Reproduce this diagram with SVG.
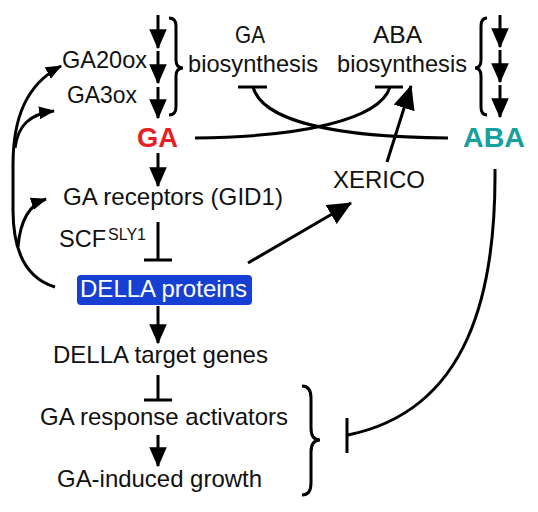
<svg xmlns="http://www.w3.org/2000/svg" width="538" height="512" viewBox="0 0 538 512">
<style>
text{font-family:"Liberation Sans",Arial,sans-serif;font-size:24px;fill:#111}
.ln{fill:none;stroke:#000;stroke-width:3}
.b{font-weight:bold;font-size:28px}
</style>
<defs>
<marker id="ah" markerUnits="userSpaceOnUse" markerWidth="20" markerHeight="20" viewBox="0 0 16 14" refX="15" refY="7" orient="auto"><path d="M0,0 L16,7 L0,14 Z" fill="#000"/></marker>
<marker id="ahs" markerUnits="userSpaceOnUse" markerWidth="16" markerHeight="14" viewBox="0 0 15 12" refX="14" refY="6" orient="auto"><path d="M0,0 L15,6 L0,12 Z" fill="#000"/></marker>
<marker id="ahb" markerUnits="userSpaceOnUse" markerWidth="24" markerHeight="22" viewBox="0 0 23 21" refX="22" refY="10.5" orient="auto"><path d="M0,0 L23,10.5 L0,21 Z" fill="#000"/></marker>
</defs>
<rect width="538" height="512" fill="#fff"/>
<g id="connectors">
<path class="ln" d="M158,15 V48" marker-end="url(#ah)"/>
<path class="ln" d="M158,51 V83" marker-end="url(#ah)"/>
<path class="ln" d="M158,87 V118" marker-end="url(#ah)"/>
<path class="ln" d="M500,15 V47" marker-end="url(#ah)"/>
<path class="ln" d="M500,50 V82" marker-end="url(#ah)"/>
<path class="ln" d="M500,85 V117" marker-end="url(#ah)"/>
<path class="ln" d="M169,18 Q176,18 176,26 L176,60 Q176,68 183,68 Q176,68 176,76 L176,107 Q176,115 169,115"/>
<path class="ln" d="M487,18 Q481,18 481,26 L481,60 Q481,68 475,68 Q481,68 481,76 L481,107 Q481,115 487,115"/>
<path class="ln" d="M302,386 Q311,386 311,398 L311,428 Q311,440 320,440 Q311,440 311,452 L311,483 Q311,495 302,495"/>
<path class="ln" d="M238,87 H267 M375,87 H403"/>
<path class="ln" d="M253,87 C262,120 330,137 448,138"/>
<path class="ln" d="M195,138 C300,137 380,120 390,87"/>
<path class="ln" d="M387,162 L411,86" marker-end="url(#ahb)"/>
<path class="ln" d="M158,153 V186" marker-end="url(#ah)"/>
<path class="ln" d="M158,222 V260 M144,260 H172"/>
<path class="ln" d="M248,263 L351,203" marker-end="url(#ahb)"/>
<path class="ln" d="M158,306 V343" marker-end="url(#ah)"/>
<path class="ln" d="M158,375 V400 M144,400 H172"/>
<path class="ln" d="M158,435 V466" marker-end="url(#ah)"/>
<path class="ln" d="M495,169 C496,290 470,410 348,435 M347,418 V453"/>
<path class="ln" d="M55,287 C25,278 13,250 13,210 L13,165 C13,120 25,85 61,66" marker-end="url(#ahs)"/>
<path class="ln" d="M15,148 C18,125 30,114 54,111" marker-end="url(#ahs)"/>
<path class="ln" d="M18,247 C20,222 28,205 46,199" marker-end="url(#ahs)"/>
</g>
<g id="ga20ox"><text x="62" y="68" textLength="85" lengthAdjust="spacingAndGlyphs">GA20ox</text></g>
<g id="ga3ox"><text x="67" y="103" textLength="70" lengthAdjust="spacingAndGlyphs">GA3ox</text></g>
<g id="ga-biosynthesis"><text x="235" y="43" textLength="30" lengthAdjust="spacingAndGlyphs">GA</text><text x="188" y="72" textLength="130" lengthAdjust="spacingAndGlyphs">biosynthesis</text></g>
<g id="aba-biosynthesis"><text x="373" y="43" textLength="49" lengthAdjust="spacingAndGlyphs">ABA</text><text x="337" y="72" textLength="130" lengthAdjust="spacingAndGlyphs">biosynthesis</text></g>
<g id="ga"><text class="b" x="137" y="147" textLength="41" lengthAdjust="spacingAndGlyphs" style="fill:#e61e25">GA</text></g>
<g id="aba"><text class="b" x="463" y="147" textLength="62" lengthAdjust="spacingAndGlyphs" style="fill:#17a09c">ABA</text></g>
<g id="xerico"><text x="333" y="188" textLength="92" lengthAdjust="spacingAndGlyphs">XERICO</text></g>
<g id="ga-receptors"><text x="63" y="205" textLength="220" lengthAdjust="spacingAndGlyphs">GA receptors (GID1)</text></g>
<g id="scf"><text x="59" y="247" textLength="47" lengthAdjust="spacingAndGlyphs">SCF</text><text x="108" y="240" style="font-size:16px" textLength="38" lengthAdjust="spacingAndGlyphs">SLY1</text></g>
<g id="della-proteins"><rect x="77" y="275" width="175" height="30" rx="4" fill="#1640d2"/><text x="80" y="297" textLength="167" lengthAdjust="spacingAndGlyphs" style="fill:#fff">DELLA proteins</text></g>
<g id="della-target-genes"><text x="53" y="363" textLength="215" lengthAdjust="spacingAndGlyphs">DELLA target genes</text></g>
<g id="ga-response-activators"><text x="40" y="425" textLength="248" lengthAdjust="spacingAndGlyphs">GA response activators</text></g>
<g id="ga-induced-growth"><text x="57" y="487" textLength="205" lengthAdjust="spacingAndGlyphs">GA-induced growth</text></g>
</svg>
